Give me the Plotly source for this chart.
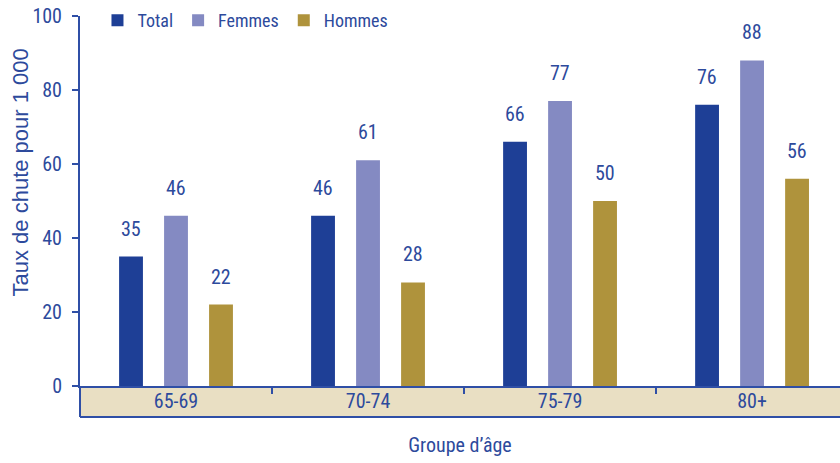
import plotly.graph_objects as go

# Taux de chute pour 1 000 personnes, par groupe d'âge
groupes = ["65-69", "70-74", "75-79", "80+"]
series = ["Total", "Femmes", "Hommes"]
total = [35, 46, 66, 76]
femmes = [46, 61, 77, 88]
hommes = [22, 28, 50, 56]

couleurs = {"Total": "#1e3f96", "Femmes": "#848ac2", "Hommes": "#af933c"}
bleu_texte = "#2d4a9c"
bleu_axe = "#2f4fa6"
beige = "#e9dfc3"
police = ("Roboto Condensed, DejaVu Sans Condensed, Liberation Sans Narrow, "
          "Arial Narrow, Liberation Sans, Arial, sans-serif")
taille = 20

valeurs = {"Total": total, "Femmes": femmes, "Hommes": hommes}

fig = go.Figure()
for nom in series:
    fig.add_trace(go.Bar(
        name=nom,
        x=groupes,
        y=valeurs[nom],
        marker=dict(color=couleurs[nom], line=dict(width=0)),
    ))

# value labels above each bar (slot width 45 px inside a group)
slot_px = 45
for i, nom in enumerate(series):
    for g, v in zip(groupes, valeurs[nom]):
        fig.add_annotation(
            x=g, y=v, xref="x", yref="y",
            text=str(v), showarrow=False,
            xshift=(i - 1) * slot_px, yshift=14,
            yanchor="bottom",
            font=dict(family=police, size=taille, color=bleu_texte),
        )

# y-axis title, set slightly above the middle of the axis
fig.add_annotation(
    text="Taux de chute pour 1 000", textangle=-90,
    xref="paper", yref="paper", x=-80 / 760, y=(386 - 173) / 370,
    xanchor="left", yanchor="middle", showarrow=False, xshift=5,
    font=dict(family="Liberation Sans, Arial, sans-serif", size=22,
              color=bleu_texte),
)

# beige band holding the category labels
bande = 31 / 370
fig.add_shape(type="rect", xref="paper", yref="paper",
              x0=0, x1=1.05, y0=-bande, y1=0,
              fillcolor=beige, line=dict(width=0), layer="below")
fig.add_shape(type="line", xref="paper", yref="paper",
              x0=0, x1=1.05, y0=-bande, y1=-bande,
              line=dict(color=bleu_axe, width=2))
fig.add_shape(type="line", xref="paper", yref="paper",
              x0=0, x1=0, y0=-bande, y1=0,
              line=dict(color=bleu_axe, width=2))

fig.update_layout(
    width=840, height=463,
    margin=dict(l=80, r=0, t=16, b=77, autoexpand=False),
    paper_bgcolor="white", plot_bgcolor="white",
    barmode="group", bargap=0.297, bargroupgap=0.47,
    font=dict(family=police, size=taille, color=bleu_texte),
    showlegend=True,
    legend=dict(
        orientation="h", x=0.023, y=0.988, xanchor="left", yanchor="middle",
        font=dict(family=police, size=18, color=bleu_texte),
        bgcolor="rgba(0,0,0,0)", itemwidth=30,
    ),
    xaxis=dict(
        range=[-0.5, 3.458],
        showline=True, linecolor=bleu_axe, linewidth=2,
        ticks="outside", ticklen=6, tickcolor=bleu_axe, tickwidth=2,
        tickson="boundaries",
        ticklabelstandoff=-4,
        tickfont=dict(family=police, size=taille, color=bleu_texte),
        showgrid=False, zeroline=False, automargin=False,
        title=dict(text="Groupe d’âge", standoff=26,
                   font=dict(family=police, size=taille, color=bleu_texte)),
    ),
    yaxis=dict(
        range=[0, 100], tickvals=[0, 20, 40, 60, 80, 100],
        showline=True, linecolor=bleu_axe, linewidth=2,
        ticks="outside", ticklen=6, tickcolor=bleu_axe, tickwidth=2,
        ticklabelstandoff=6,
        tickfont=dict(family=police, size=taille, color=bleu_texte),
        showgrid=False, zeroline=False, automargin=False,
    ),
)

fig.write_html("out.html")
